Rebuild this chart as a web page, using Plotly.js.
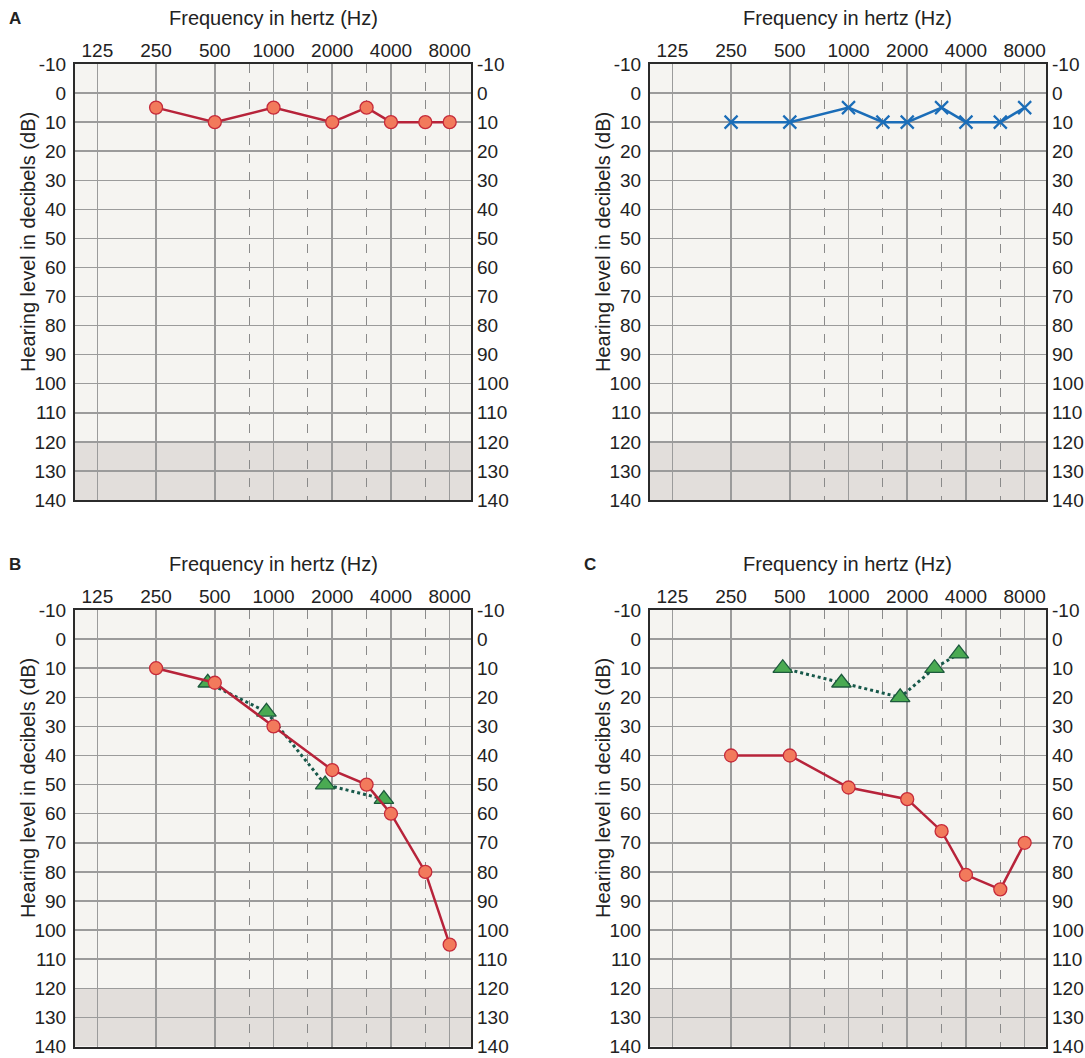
<!DOCTYPE html>
<html>
<head>
<meta charset="utf-8">
<script src="https://cdn.plot.ly/plotly-3.0.1.min.js"></script>
<style>html,body{margin:0;padding:0;background:#fff;}#chart{width:1085px;height:1058px;}</style>
</head>
<body>
<div id="chart"></div>
<script>
// ---- data ----
const octaveTicks = [125, 250, 500, 1000, 2000, 4000, 8000];
const octaveTickText = ["125", "250", "500", "1000", "2000", "4000", "8000"];
const interOctaveTicks = [750, 1500, 3000, 6000];
const dbTicks = [-10, 0, 10, 20, 30, 40, 50, 60, 70, 80, 90, 100, 110, 120, 130, 140];
const dbTickText = ["-10", "0", "10", "20", "30", "40", "50", "60", "70", "80", "90", "100", "110", "120", "130", "140"];

const airFreqs = [250, 500, 1000, 2000, 3000, 4000, 6000, 8000];
const airA = [5, 10, 5, 10, 5, 10, 10, 10];

const leftFreqs = [250, 500, 1000, 1500, 2000, 3000, 4000, 6000, 8000];
const leftA = [10, 10, 5, 10, 10, 5, 10, 10, 5];

const airB = [10, 15, 30, 45, 50, 60, 80, 105];
const boneFreqsB = [500, 1000, 2000, 4000];
const boneB = [15, 25, 50, 55];

const airC = [40, 40, 51, 55, 66, 81, 86, 70];
const boneFreqsC = [500, 1000, 2000, 3000, 4000];
const boneC = [10, 15, 20, 10, 5];

const panelLabels = ["A", "", "B", "C"];
const xTitle = "Frequency in hertz (Hz)";
const yTitle = "Hearing level in decibels (dB)";

// ---- styling ----
const W = 1085, H = 1058;
const FONT = "Liberation Sans Narrow, Liberation Sans, Arial, sans-serif";
const boneShift = 0.92; // bone-conduction symbols drawn slightly left of their frequency
const xr = [Math.log10(96), Math.log10(10290)];
const px = (a, b) => [a / W, b / W];
const py = (top, bot) => [1 - bot / H, 1 - top / H];

const panels = [
  { xd: px(75, 471), yd: py(64, 500), top: 64 },
  { xd: px(650, 1046), yd: py(64, 500), top: 64 },
  { xd: px(75, 471), yd: py(610, 1046.5), top: 610 },
  { xd: px(650, 1046), yd: py(610, 1046.5), top: 610 }
];

const layout = {
  width: W, height: H,
  margin: { l: 0, r: 0, t: 0, b: 0 },
  paper_bgcolor: "#ffffff",
  plot_bgcolor: "#f5f4f1",
  showlegend: false,
  font: { family: FONT, size: 19, color: "#222" },
  shapes: [], annotations: []
};

const traces = [];

panels.forEach((p, i) => {
  const n = i + 1;
  const xk = n === 1 ? "xaxis" : "xaxis" + n;
  const xs = n === 1 ? "x" : "x" + n;
  const yL = 2 * n - 1, yR = 2 * n;
  const ykL = yL === 1 ? "yaxis" : "yaxis" + yL;
  const ysL = yL === 1 ? "y" : "y" + yL;
  const ykR = "yaxis" + yR;
  const ysR = "y" + yR;

  layout[xk] = {
    domain: p.xd, anchor: ysL, type: "log", range: xr, side: "top",
    tickmode: "array", tickvals: octaveTicks, ticktext: octaveTickText,
    ticks: "", showgrid: true, gridcolor: "#9b9b9b", gridwidth: 1.5,
    zeroline: false, showline: true, mirror: true, linecolor: "#2b2b2b", linewidth: 2,
    tickfont: { family: FONT, size: 19, color: "#222" },
    ticklabelstandoff: -3,
    minor: { tickmode: "array", tickvals: interOctaveTicks, showgrid: true,
             griddash: "dash", gridcolor: "#8a8a8a", gridwidth: 1, ticks: "" },
    fixedrange: true
  };
  layout[ykL] = {
    domain: p.yd, anchor: xs, range: [140, -10],
    tickmode: "array", tickvals: dbTicks, ticktext: dbTickText, ticks: "",
    showgrid: true, gridcolor: "#9b9b9b", gridwidth: 1.5, zeroline: false,
    showline: true, mirror: true, linecolor: "#2b2b2b", linewidth: 2,
    tickfont: { family: FONT, size: 19, color: "#222" },
    ticklabelstandoff: 3, fixedrange: true
  };
  layout[ykR] = {
    overlaying: ysL, anchor: xs, side: "right", range: [140, -10],
    tickmode: "array", tickvals: dbTicks, ticktext: dbTickText, ticks: "",
    showgrid: false, zeroline: false, showline: false,
    tickfont: { family: FONT, size: 19, color: "#222" },
    ticklabelstandoff: 5, fixedrange: true
  };

  // shaded region 120-140 dB
  layout.shapes.push({
    type: "rect", xref: xs + " domain", yref: ysL, x0: 0, x1: 1, y0: 120, y1: 140,
    fillcolor: "#e2dedb", line: { width: 0 }, layer: "below"
  });

  // titles
  const cx = (p.xd[0] + p.xd[1]) / 2;
  layout.annotations.push({
    text: xTitle, xref: "paper", yref: "paper", x: cx, y: 1 - (p.top - 46) / H,
    showarrow: false, xanchor: "center", yanchor: "middle",
    font: { family: FONT, size: 20, color: "#222" }
  });
  layout.annotations.push({
    text: yTitle, xref: "paper", yref: "paper", x: (p.xd[0] * W - 47) / W,
    y: 1 - (p.top + 178) / H, textangle: -90,
    showarrow: false, xanchor: "center", yanchor: "middle",
    font: { family: FONT, size: 20, color: "#222" }
  });
  if (panelLabels[i]) {
    layout.annotations.push({
      text: "<b>" + panelLabels[i] + "</b>", xref: "paper", yref: "paper",
      x: (p.xd[0] * W - 60) / W, y: 1 - (p.top - 46) / H,
      showarrow: false, xanchor: "center", yanchor: "middle",
      font: { family: "Liberation Sans, Arial, sans-serif", size: 17, color: "#222" }
    });
  }

  // invisible trace to register the right-hand axis
  traces.push({ x: [octaveTicks[0]], y: [dbTicks[0]], xaxis: xs, yaxis: ysR,
    mode: "markers", marker: { opacity: 0 }, hoverinfo: "skip", showlegend: false });
});

const redLine = { color: "#b7233a", width: 2.5 };
const redMarker = { symbol: "circle", size: 13, color: "#f27a5c", line: { color: "#c62a3a", width: 1.3 } };
const greenLine = { color: "#17584a", width: 3, dash: "dot" };
const greenMarker = { symbol: "triangle-up", size: 17, color: "#4aaa52", line: { color: "#1d5a3d", width: 1.3 } };

// Panel A (right ear)
traces.push({ x: airFreqs, y: airA, xaxis: "x", yaxis: "y", mode: "lines+markers",
  line: redLine, marker: redMarker });
// Panel A (left ear)
traces.push({ x: leftFreqs, y: leftA, xaxis: "x2", yaxis: "y3", mode: "lines+markers",
  line: { color: "#1b6db8", width: 2.5 },
  marker: { symbol: "x-thin", size: 13, color: "#1b6db8", line: { color: "#1b6db8", width: 2.2 } } });
// Panel B
traces.push({ x: boneFreqsB.map(f => f * boneShift), y: boneB, xaxis: "x3", yaxis: "y5",
  mode: "lines+markers", line: greenLine, marker: greenMarker });
traces.push({ x: airFreqs, y: airB, xaxis: "x3", yaxis: "y5", mode: "lines+markers",
  line: redLine, marker: redMarker });
// Panel C
traces.push({ x: boneFreqsC.map(f => f * boneShift), y: boneC, xaxis: "x4", yaxis: "y7",
  mode: "lines+markers", line: greenLine, marker: greenMarker });
traces.push({ x: airFreqs, y: airC, xaxis: "x4", yaxis: "y7", mode: "lines+markers",
  line: redLine, marker: redMarker });

Plotly.newPlot("chart", traces, layout, { displayModeBar: false, staticPlot: true });
</script>
</body>
</html>
